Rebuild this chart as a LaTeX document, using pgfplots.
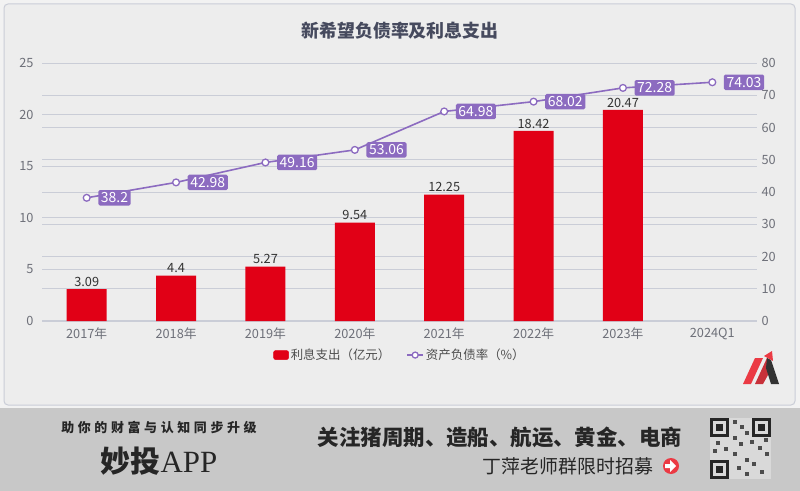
\documentclass[border=0pt]{standalone}
\usepackage{pgfplots}
\pgfplotsset{compat=1.18}
\usepackage{fontspec}
\setmainfont{Noto Sans CJK SC}
\newfontfamily\serifx{Liberation Serif}

\definecolor{barred}{HTML}{E10016}
\definecolor{lineviolet}{HTML}{8C6BC0}
\definecolor{gridc}{HTML}{CACDD7}
\definecolor{tickc}{HTML}{6E7079}
\definecolor{titlec}{HTML}{464A5E}
\definecolor{panel}{HTML}{EDEDED}
\definecolor{bannerc}{HTML}{C8C8C8}
\definecolor{logored}{HTML}{EB3A44}

\newcommand{\fs}[1]{\fontsize{#1}{#1}\selectfont}

% values
\pgfplotstableread{
x y lab
0 3.09 3.09
1 4.4 4.4
2 5.27 5.27
3 9.54 9.54
4 12.25 12.25
5 18.42 18.42
6 20.47 20.47
}\interest
\pgfplotstableread{
x y lab
0 38.2 38.2
1 42.98 42.98
2 49.16 49.16
3 53.06 53.06
4 64.98 64.98
5 68.02 68.02
6 72.28 72.28
7 74.03 74.03
}\debtratio

\pgfplotsset{
  base/.style={
    width=715bp, height=258bp, scale only axis,
    at={(42bp,-321bp)}, anchor=south west,
    xmin=-0.5, xmax=7.5,
    /pgf/number format/assume math mode=true,
    major tick length=0pt,
    tick label style={font=\fs{12.8}, text=tickc},
    grid style={gridc, line width=1bp},
  }
}

\begin{document}
\begin{tikzpicture}[x=1bp, y=-1bp]
\useasboundingbox (0,0) rectangle (800,491);
\fill[white!95!black] (0,0) rectangle (800,491);
\fill[panel, draw=gridc, line width=1bp, rounded corners=4bp] (4,4) rectangle (795,405);

% right-scale grid and labels
\begin{axis}[base, ymin=0, ymax=80, ytick={0,10,...,80},
  axis x line=none, axis y line*=right, y axis line style={draw=none},
  xtick=\empty, ymajorgrids,
  yticklabel style={xshift=1bp}]
\addplot[draw=none] coordinates {(0,0)};
\end{axis}

% bars (left scale)
\begin{axis}[base, ymin=0, ymax=25, ytick={0,5,...,25},
  axis x line*=bottom, axis y line*=left,
  y axis line style={draw=none}, x axis line style={-, gridc, line width=1.2bp},
  ymajorgrids,
  xtick={0,...,7},
  xticklabels={2017年,2018年,2019年,2020年,2021年,2022年,2023年,2024Q1},
  xticklabel style={yshift=-3bp},
  yticklabel style={xshift=-5bp}]
\addplot[ybar, bar width=40bp, fill=barred, draw=none,
  nodes near coords, point meta=explicit symbolic,
  nodes near coords style={font=\fs{12.8}, text=black!80, yshift=-1bp}]
  table[x=x, y=y, meta=lab] {\interest};
\end{axis}

% debt ratio line (right scale)
\begin{axis}[base, ymin=0, ymax=80, hide axis, clip=false,
  legend style={at={(0.5007,-0.132)}, anchor=center, legend columns=2,
    draw=none, fill=none, font=\fs{12.5}, text=black!70,
    /tikz/every even column/.append style={column sep=14bp}},
  legend cell align=left]
\addlegendimage{legend image code/.code={
  \fill[barred, rounded corners=2bp] (-1bp,-4.5bp) rectangle (14bp,4.5bp);}}
\addlegendentry{利息支出（亿元）}
\addplot[lineviolet, line width=1.6bp, mark=*,
  mark options={fill=white, draw=lineviolet, line width=1.3bp, mark size=3.4bp},
  nodes near coords, point meta=explicit symbolic,
  nodes near coords style={anchor=west, fill=lineviolet, text=white,
    font=\fs{14}, rounded corners=1.5bp, inner sep=2.6bp, xshift=11bp},
  legend image code/.code={
    \draw[lineviolet, line width=1.6bp] (-1bp,0bp) -- (15bp,0bp);
    \draw[lineviolet, fill=white, line width=1.3bp] (7bp,0bp) circle (3bp);}]
  table[x=x, y=y, meta=lab] {\debtratio};
\addlegendentry{资产负债率（\%）}
\end{axis}

% title
\node[font=\bfseries\fs{18}, text=titlec] at (400,31) {新希望负债率及利息支出};

% logo
\fill[logored] (743,384) -- (755,358) -- (763,358) -- (751,384) -- cycle;
\fill[logored!85!black] (755,384) -- (767,358) -- (773,366) -- (763,384) -- cycle;
\fill[black!80] (767,358) -- (771,360) -- (779,384) -- (771,384) -- (766,368) -- cycle;
\fill[logored] (764,356) -- (772,351) -- (773,361) -- cycle;

% bottom banner
\fill[bannerc] (0,408) rectangle (800,491);
\node[font=\bfseries\fs{13}\addfontfeature{LetterSpace=28}, text=black!85] at (159,428) {助你的财富与认知同步升级};
\node[text=black!85, inner sep=0pt] at (159,461) {{\bfseries\fs{30}妙投}{\serifx\fs{31}APP}};
\node[font=\bfseries\fs{21.5}, text=black!85] at (500,437) {关注猪周期、造船、航运、黄金、电商};
\node[font=\fs{19}, text=black!85] at (568,466) {丁萍老师群限时招募};
\fill[logored] (671,466) circle (8);
\fill[white] (665,464) -- (670,464) -- (670,460) -- (676,466) -- (670,472) -- (670,468) -- (665,468) -- cycle;

% QR code block
\fill[white!85!black] (710,418) rectangle (771,479);
\foreach \px/\py in {710/418, 752/418, 710/460} {
  \fill[black!85] (\px,\py) rectangle ++(19,19);
  \fill[white!85!black] (\px+3,\py+3) rectangle ++(13,13);
  \fill[black!85] (\px+6,\py+6) rectangle ++(7,7);
}
\foreach \px/\py in {733/420, 740/425, 745/431, 733/436, 739/442, 750/440, 758/446, 765/452, 733/452, 745/458, 737/466, 752/462, 760/470, 745/472, 716/441, 724/447, 713/449, 764/438}
  \fill[black!70] (\px,\py) rectangle ++(4,4);
\end{tikzpicture}
\end{document}
